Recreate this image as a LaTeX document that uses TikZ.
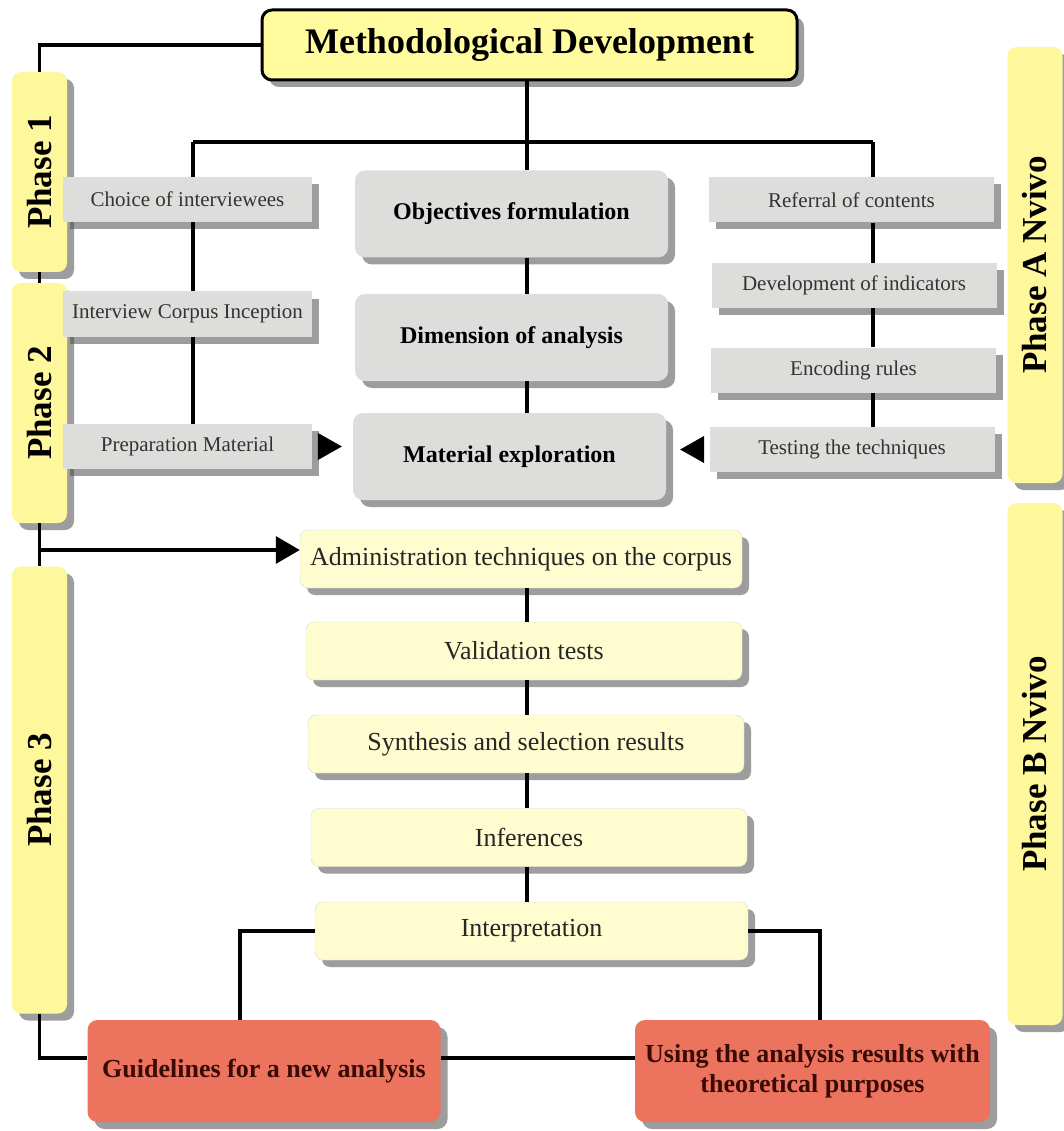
\documentclass[tikz,border=0pt]{standalone}
\usepackage{fontspec}
\setmainfont{Liberation Serif}
\usetikzlibrary{shadows,arrows.meta}

\definecolor{phaseyellow}{HTML}{FFF79C}
\definecolor{titleyellow}{HTML}{FFFB9E}
\definecolor{paleyellow}{HTML}{FFFDCF}
\definecolor{boxgray}{HTML}{DDDDDB}
\definecolor{redbox}{HTML}{EC735E}
\definecolor{redtext}{HTML}{3A0A05}

\begin{document}
\begin{tikzpicture}[x=1pt, y=-1pt,
	shade/.style={drop shadow={shadow xshift=7pt, shadow yshift=-7pt, opacity=0.55, fill=black!70}},
	phasebox/.style={rectangle, rounded corners=9pt, fill=phaseyellow, rotate=90, minimum height=55pt, inner sep=0pt, font=\fontsize{35}{38}\selectfont\bfseries, shade},
	titlebox/.style={rectangle, rounded corners=10pt, draw=black, line width=3pt, fill=titleyellow, minimum width=535pt, minimum height=70pt, font=\fontsize{36}{40}\selectfont\bfseries, shade},
	graybox/.style={rectangle, fill=boxgray, minimum width=249pt, minimum height=45pt, inner sep=0pt, text=black!80, font=\fontsize{21}{24}\selectfont, shade},
	bigbox/.style={rectangle, rounded corners=10pt, fill=boxgray, minimum width=313pt, minimum height=87pt, inner sep=0pt, font=\fontsize{24}{28}\selectfont\bfseries, shade},
	stepbox/.style={rectangle, rounded corners=8pt, draw=black!15, fill=paleyellow, minimum width=436pt, minimum height=58pt, inner sep=0pt, text=black!85, font=\fontsize{26}{30}\selectfont, shade},
	endbox/.style={rectangle, rounded corners=10pt, fill=redbox, minimum width=353pt, minimum height=102pt, inner sep=0pt, align=center, text=redtext, font=\fontsize{26}{30}\selectfont\bfseries, shade},
	link/.style={line width=3.2pt},
	tip/.style={-{Triangle[length=24pt, width=27pt]}}
]
\useasboundingbox (0,0) rectangle (1064,1131);

% phases
\node[phasebox, minimum width=200pt] (ph1) at (39.5,172) {Phase 1};
\node[phasebox, minimum width=240pt] (ph2) at (39.5,403) {Phase 2};
\node[phasebox, minimum width=447pt] (ph3) at (39.5,790) {Phase 3};
\node[phasebox, minimum width=436pt] (phA) at (1035,265) {Phase A Nvivo};
\node[phasebox, minimum width=522pt] (phB) at (1035,764) {Phase B Nvivo};

% top
\node[titlebox] (title) at (529.5,45) {Methodological Development};

% left column
\node[graybox] (choice) at (187.5,199.5) {Choice of interviewees};
\node[graybox] (corpus) at (187.5,314) {Interview Corpus Inception};
\node[graybox] (prep) at (187.5,446.5) {Preparation Material};

% centre column
\node[bigbox] (obj) at (511.5,214) {Objectives formulation};
\node[bigbox] (dim) at (511.5,337.5) {Dimension of analysis};
\node[bigbox] (mat) at (509.5,456.5) {Material exploration};

% right column
\node[graybox, minimum width=285pt] (ref) at (851.5,200) {Referral of contents};
\node[graybox, minimum width=285pt] (dev) at (854,285.5) {Development of indicators};
\node[graybox, minimum width=285pt] (enc) at (853.5,370) {Encoding rules};
\node[graybox, minimum width=285pt] (test) at (852,449.5) {Testing the techniques};

% phase 3 steps
\node[stepbox, minimum width=442pt] (admin) at (521,559) {Administration techniques on the corpus};
\node[stepbox] (valid) at (524,651) {Validation tests};
\node[stepbox] (synth) at (526,744) {Synthesis and selection results};
\node[stepbox] (infer) at (529,837.5) {Inferences};
\node[stepbox, minimum width=433pt] (interp) at (531.5,931) {Interpretation};

\node[endbox] (guide) at (264,1071) {Guidelines for a new analysis};
\node[endbox, minimum width=355pt] (using) at (812.5,1071) {Using the analysis results with\\theoretical purposes};

\coordinate (spine) at (527,0);
\coordinate (lsp) at (193,142);
\coordinate (rsp) at (873,142);
\coordinate (split) at (0,550);
\coordinate (gk) at (240,0);
\coordinate (uk) at (820,0);
\coordinate (low) at (0,1058);

\draw[link] (title.west) -| (ph1.east);
\draw[link] (ph1.west) -- (ph2.east);
\draw[link] (ph2.west) -- (ph3.east);
\draw[link, tip] (ph2.west |- split) -- (admin.west |- split);
\draw[link] (ph3.west) |- (guide.west |- low);
\draw[link] (guide.east |- low) -- (using.west |- low);

\draw[link] (spine |- title.south) -- (spine |- obj.north);
\draw[link] (lsp) -- (rsp);
\draw[link] (lsp) -- (lsp |- choice.north);
\draw[link] (rsp) -- (rsp |- ref.north);
\draw[link] (lsp |- choice.south) -- (lsp |- corpus.north);
\draw[link] (lsp |- corpus.south) -- (lsp |- prep.north);
\draw[link] (spine |- obj.south) -- (spine |- dim.north);
\draw[link] (spine |- dim.south) -- (spine |- mat.north);
\draw[link] (rsp |- ref.south) -- (rsp |- dev.north);
\draw[link] (rsp |- dev.south) -- (rsp |- enc.north);
\draw[link] (rsp |- enc.south) -- (rsp |- test.north);

\draw[line width=0.5pt, tip, shorten <=6pt, shorten >=11pt] (prep.east) -- (prep.east -| mat.west);
\draw[line width=0.5pt, tip, shorten <=6pt, shorten >=14pt] (test.west) -- (test.west -| mat.east);

\draw[link] (spine |- admin.south) -- (spine |- valid.north);
\draw[link] (spine |- valid.south) -- (spine |- synth.north);
\draw[link] (spine |- synth.south) -- (spine |- infer.north);
\draw[link] (spine |- infer.south) -- (spine |- interp.north);
\draw[link] (interp.west) -| (gk |- guide.north);
\draw[link] (interp.east) -| (uk |- using.north);

\end{tikzpicture}
\end{document}
